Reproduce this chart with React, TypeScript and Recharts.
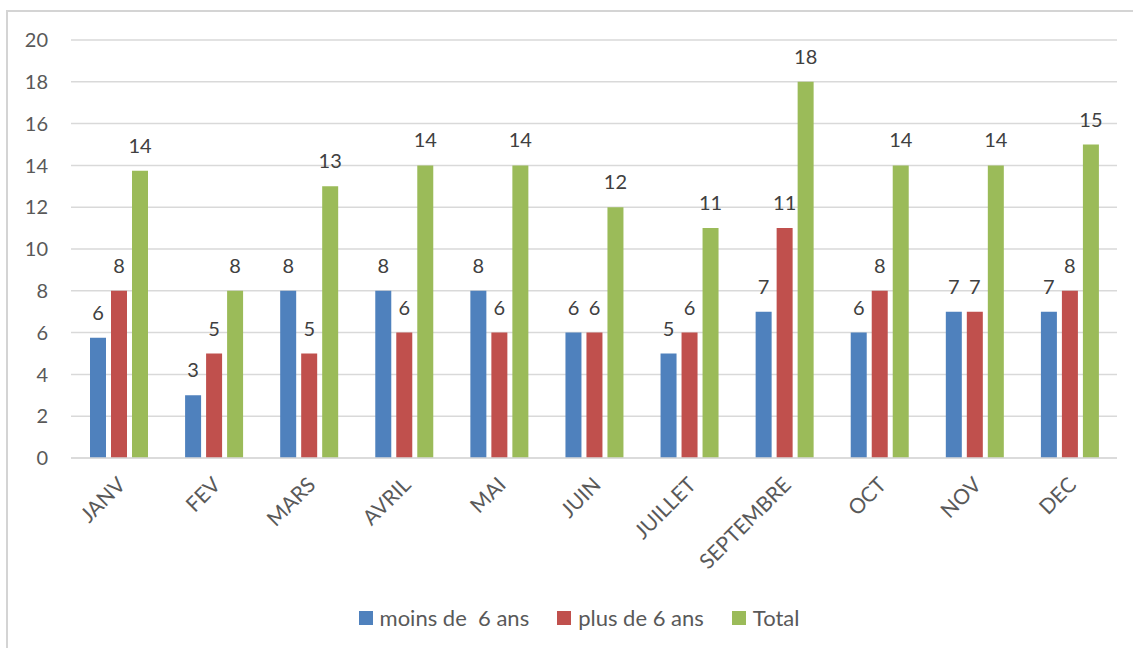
import { Bar, BarChart, CartesianGrid, LabelList, Legend, XAxis, YAxis } from "recharts";

const months = ["JANV", "FEV", "MARS", "AVRIL", "MAI", "JUIN", "JUILLET", "SEPTEMBRE", "OCT", "NOV", "DEC"];
const moins6 = [5.75, 3, 8, 8, 8, 6, 5, 7, 6, 7, 7];
const plus6 = [8, 5, 5, 6, 6, 6, 6, 11, 8, 7, 8];
const total = [13.75, 8, 13, 14, 14, 12, 11, 18, 14, 14, 15];
const yTicks = [0, 2, 4, 6, 8, 10, 12, 14, 16, 18, 20];

const series = [
  { key: "moins", name: "moins de  6 ans", color: "#4F81BD" },
  { key: "plus", name: "plus de 6 ans", color: "#C0504D" },
  { key: "total", name: "Total", color: "#9BBB59" }
];

const rows = months.map((m, i) => ({ month: m, moins: moins6[i], plus: plus6[i], total: total[i] }));

const FONT = "Lato, 'Open Sans', sans-serif";

function MonthTick({ x, y, payload }: any) {
  const ax = x + 3;
  const ay = y + 15;
  return (
    <text
      x={ax}
      y={ay}
      transform={`rotate(-45, ${ax}, ${ay})`}
      textAnchor="end"
      dy="0.35em"
      fill="#595959"
      fontSize={21}
      fontFamily={FONT}
    >
      {payload.value}
    </text>
  );
}

function ChartLegend() {
  return (
    <div style={{ display: "flex", justifyContent: "center", gap: 28, fontFamily: FONT, fontSize: 22, color: "#595959", marginLeft: 20 }}>
      {series.map((s) => (
        <div key={s.key} style={{ display: "flex", alignItems: "center" }}>
          <span style={{ width: 14, height: 14, background: s.color, display: "inline-block", marginRight: 7 }} />
          <span style={{ whiteSpace: "pre" }}>{s.name}</span>
        </div>
      ))}
    </div>
  );
}

export default function App() {
  return (
    <div style={{ position: "fixed", left: 0, top: 0, width: 1133, height: 648, background: "#fff", overflow: "hidden" }}>
      <svg width={1133} height={648} style={{ position: "absolute", left: 0, top: 0 }}>
        <path d="M7 660 V11 H1140" fill="none" stroke="#d4d4d4" strokeWidth={2} />
      </svg>
      <BarChart
        width={1133}
        height={648}
        data={rows}
        margin={{ top: 40, right: 16, bottom: 8, left: 21 }}
        barSize={16}
        barGap={5}
        style={{ position: "absolute", left: 0, top: 0 }}
      >
        <CartesianGrid vertical={false} stroke="#d9d9d9" strokeWidth={1.5} />
        <XAxis
          dataKey="month"
          interval={0}
          height={146}
          tick={<MonthTick />}
          tickLine={false}
          axisLine={{ stroke: "#d9d9d9", strokeWidth: 1.5 }}
        />
        <YAxis
          domain={[0, 20]}
          ticks={yTicks}
          width={50}
          tickSize={0}
          tickMargin={23}
          axisLine={false}
          tickLine={false}
          tick={{ fill: "#595959", fontSize: 20, fontFamily: FONT }}
        />
        <Legend verticalAlign="bottom" height={36} content={<ChartLegend />} />
        {series.map((s) => (
          <Bar key={s.key} dataKey={s.key} name={s.name} fill={s.color} isAnimationActive={false}>
            <LabelList
              dataKey={s.key}
              position="top"
              offset={18}
              formatter={(v: any) => Math.round(v)}
              fill="#404040"
              fontSize={20}
              fontFamily={FONT}
            />
          </Bar>
        ))}
      </BarChart>
    </div>
  );
}
